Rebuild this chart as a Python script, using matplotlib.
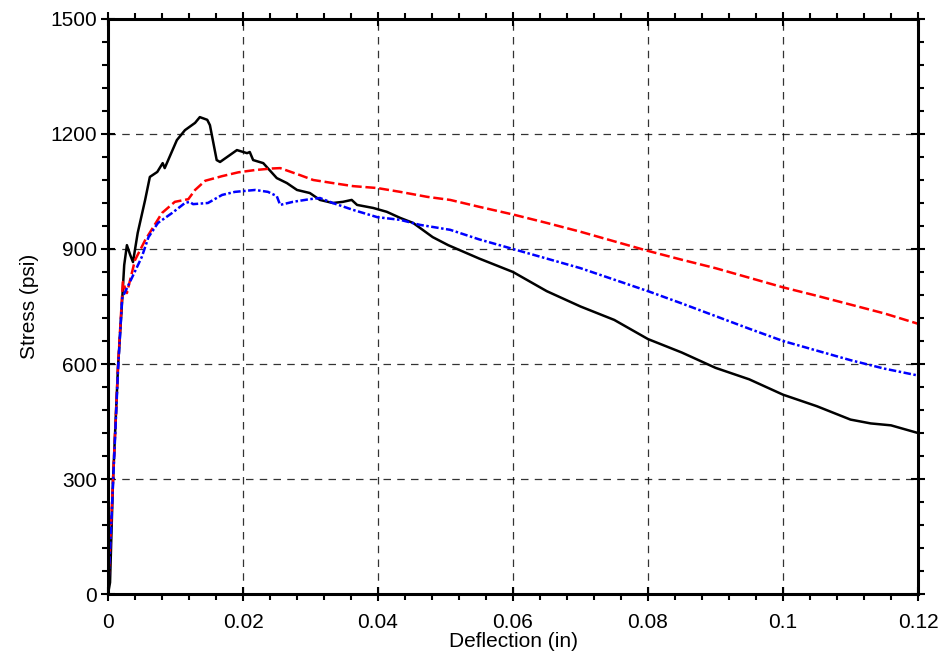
import numpy as np
import matplotlib.pyplot as plt
from matplotlib.ticker import MultipleLocator

plt.rcParams['font.family'] = ['Liberation Sans', 'DejaVu Sans']

# black specimen (solid)
black_x = [0, 0.0003, 0.00074, 0.00148, 0.0021, 0.0024, 0.0028, 0.0033, 0.0037, 0.0044,
           0.0055, 0.0062, 0.0073, 0.0081, 0.0084, 0.0102, 0.0114, 0.0129, 0.0136, 0.0147,
           0.0151, 0.0161, 0.0166, 0.0191, 0.0206, 0.0210, 0.0215, 0.0230, 0.0250, 0.0265,
           0.0280, 0.0299, 0.0314, 0.0333, 0.0348, 0.0361, 0.0369, 0.0393, 0.0413, 0.0433,
           0.0452, 0.0481, 0.0504, 0.055, 0.060, 0.065, 0.070, 0.075, 0.080, 0.085,
           0.090, 0.095, 0.100, 0.105, 0.110, 0.113, 0.116, 0.120]
black_y = [0, 30, 297, 592, 767, 858, 910, 884, 866, 942,
           1028, 1088, 1101, 1124, 1111, 1184, 1210, 1229, 1244, 1237,
           1223, 1132, 1127, 1158, 1150, 1153, 1132, 1124, 1085, 1072,
           1054, 1046, 1028, 1020, 1023, 1028, 1015, 1007, 997, 981,
           968, 931, 910, 875, 840, 790, 750, 715, 665, 630,
           590, 560, 520, 490, 455, 445, 440, 420]

# red specimen (dashed)
red_x = [0, 0.0005, 0.001, 0.0015, 0.0022, 0.0028, 0.004, 0.0055, 0.0067, 0.008,
         0.0099, 0.0119, 0.0129, 0.0144, 0.0169, 0.0193, 0.0218, 0.0243, 0.0255, 0.0284,
         0.0304, 0.0333, 0.0363, 0.0399, 0.0433, 0.0473, 0.0507, 0.055, 0.060, 0.065,
         0.070, 0.075, 0.080, 0.085, 0.090, 0.095, 0.100, 0.105, 0.110, 0.115, 0.120]
red_y = [0, 200, 400, 600, 814, 785, 871, 923, 957, 994,
         1023, 1030, 1054, 1078, 1090, 1100, 1106, 1110, 1111, 1093,
         1080, 1072, 1064, 1059, 1049, 1036, 1028, 1010, 990, 968,
         945, 920, 895, 872, 850, 825, 800, 778, 755, 732, 705]

# blue specimen (dash-dot)
blue_x = [0, 0.0005, 0.001, 0.0015, 0.0021, 0.0036, 0.005, 0.006, 0.0074, 0.0095,
          0.0114, 0.0121, 0.0126, 0.0148, 0.0169, 0.0188, 0.0218, 0.0237, 0.0250, 0.0255,
          0.0274, 0.0299, 0.0314, 0.0333, 0.0363, 0.0399, 0.0433, 0.0462, 0.0507, 0.055,
          0.060, 0.065, 0.070, 0.075, 0.080, 0.085, 0.090, 0.095, 0.100, 0.105,
          0.110, 0.115, 0.120]
blue_y = [0, 190, 390, 590, 772, 827, 879, 931, 968, 994,
          1020, 1023, 1017, 1020, 1041, 1049, 1054, 1049, 1038, 1015,
          1023, 1030, 1033, 1020, 1002, 983, 976, 963, 950, 925,
          900, 875, 850, 820, 790, 758, 725, 692, 660, 635,
          610, 588, 570]

fig = plt.figure(figsize=(9.4, 6.59), dpi=100)
ax = fig.add_axes([0.1149, 0.0986, 0.8617, 0.8726])

ax.plot(black_x, black_y, color='black', lw=1.8)
ax.plot(red_x, red_y, color='red', lw=1.8, ls=(0, (4, 1.5)))
ax.plot(blue_x, blue_y, color='blue', lw=1.8, ls=(0, (3, 1, 1, 1)))

ax.set_xlim(0, 0.12)
ax.set_ylim(0, 1500)
ax.xaxis.set_minor_locator(MultipleLocator(0.004))
ax.yaxis.set_major_locator(MultipleLocator(300))
ax.yaxis.set_minor_locator(MultipleLocator(60))
ax.set_xticks([0, 0.02, 0.04, 0.06, 0.08, 0.1, 0.12])
ax.set_xticklabels(['0', '0.02', '0.04', '0.06', '0.08', '0.1', '0.12'])

ax.grid(True, which='major', color='black', ls=(0, (6, 5)), lw=0.9, alpha=0.8)
for s in ax.spines.values():
    s.set_linewidth(2.2)
ax.tick_params(which='major', direction='inout', length=10, width=1.5,
               top=True, right=True, labelsize=15)
ax.tick_params(axis='x', which='major', pad=9)
ax.tick_params(axis='y', which='major', pad=3)
ax.tick_params(which='minor', direction='out', length=4, width=1.5,
               top=True, right=True)

ax.set_xlabel('Deflection (in)', fontsize=15, labelpad=0)
ax.set_ylabel('Stress (psi)', fontsize=15, labelpad=8)

fig.savefig('out.png', dpi=100)
